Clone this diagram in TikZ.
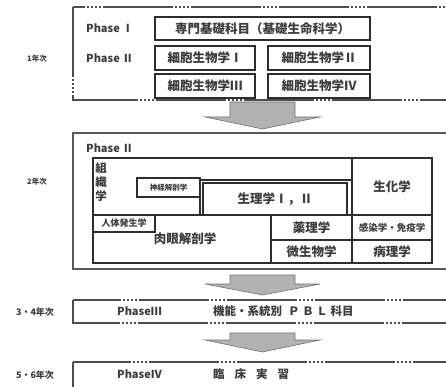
\documentclass[tikz,border=0pt]{standalone}
\usepackage{fontspec}
\newfontfamily\jp{Noto Sans CJK JP}
\usetikzlibrary{calc}
\definecolor{txt}{RGB}{60,60,60}
\definecolor{edge}{RGB}{45,45,45}
\tikzset{
  lab/.style={inner sep=0pt, font=\jp\bfseries, text=txt},
  cell/.style={draw=edge, line width=1.1pt, inner sep=0pt, font=\jp\bfseries\fontsize{12.5}{13}\selectfont, text=txt},
  phase/.style={lab, anchor=west, font=\jp\bfseries\fontsize{11}{12}\selectfont},
  dotbox/.style={draw=black!70, line width=1.2pt, dash pattern=on 70pt off 2pt on 2pt off 2pt on 2pt off 2pt on 2pt off 2pt on 2pt off 2pt},
  solidbox/.style={draw=black!65, line width=1.6pt},
  blockarr/.style={fill=black!30, draw=black!55, line width=0.6pt},
}
\newcommand\blockarrow[3]{%
  \draw[blockarr] ($(#1)+(-32.5,0)$) -- ($(#1)+(32.5,0)$) -- ($(#1)+(32.5,#2)$) -- ($(#1)+(57.5,#2)$)
    -- ($(#1)+(0,#3)$) -- ($(#1)+(-57.5,#2)$) -- ($(#1)+(-32.5,#2)$) -- cycle;}
\begin{document}
\begin{tikzpicture}[x=1pt,y=-1pt]
\useasboundingbox (0,0) rectangle (446,387);
\clip (0,0) rectangle (446,387);
\fill[white] (0,0) rectangle (446,387);

% ---------- 1st year ----------
\draw[dotbox] (73,7) rectangle (470,100);
\node[lab, font=\jp\bfseries\fontsize{7.5}{8}\selectfont] (y1) at (37,59) {1年次};
\node[phase] (p1) at (86,28) {Phase Ⅰ};
\node[phase] (p2) at (86,58) {Phase Ⅱ};
\node[cell, minimum width=215, minimum height=23] (b0) at (262.5,28.5) {専門基礎科目（基礎生命科学）};
\node[cell, minimum width=100, minimum height=24] (b1) at (205,58) {細胞生物学Ⅰ};
\node[cell, minimum width=102, minimum height=24] (b2) at (319,58) {細胞生物学Ⅱ};
\node[cell, minimum width=100, minimum height=24] (b3) at (205,86) {細胞生物学Ⅲ};
\node[cell, minimum width=102, minimum height=24] (b4) at (319,86) {細胞生物学Ⅳ};

\coordinate (a1) at (262.5,102);
\blockarrow{a1}{15}{27}

% ---------- 2nd year ----------
\draw[solidbox] (73,133) rectangle (470,269);
\node[lab, font=\jp\bfseries\fontsize{7.5}{8}\selectfont] (y2) at (37,182) {2年次};
\node[phase] (p3) at (86,148) {Phase Ⅱ};

\node[cell, minimum width=259, minimum height=57] (soshiki) at (222.5,186.5) {};
\node[lab, align=center, font=\jp\bfseries\fontsize{11.5}{14}\selectfont] (soshikit) at (101,182) {組\\織\\学};
\node[cell, minimum width=63, minimum height=19, font=\jp\bfseries\fontsize{7.5}{8}\selectfont] (shinkei) at (168.5,187.5) {神経解剖学};
\node[cell, minimum width=152, minimum height=35] (seiriout) at (276,197.5) {};
\node[cell, minimum width=144, minimum height=32] (seiri) at (275,199) {生理学Ⅰ，Ⅱ};
\node[cell, minimum width=80, minimum height=57] (seika) at (392,186.5) {生化学};
\node[cell, minimum width=178, minimum height=48] (nikugan) at (182,239) {\hspace*{6pt}肉眼解剖学};
\node[cell, minimum width=62, minimum height=17, font=\jp\bfseries\fontsize{9}{10}\selectfont] (jintai) at (124,223.5) {人体発生学};
\node[cell, minimum width=81, minimum height=25] (yakuri) at (311.5,227.5) {薬理学};
\node[cell, minimum width=81, minimum height=23] (biseibutsu) at (311.5,251.5) {微生物学};
\node[cell, minimum width=80, minimum height=25, font=\jp\bfseries\fontsize{9.5}{10}\selectfont] (kansen) at (392,227.5) {感染学・免疫学};
\node[cell, minimum width=80, minimum height=23] (byouri) at (392,251.5) {病理学};

\coordinate (a2) at (262.5,275);
\blockarrow{a2}{9}{20}

% ---------- 3-4th year ----------
\draw[dotbox] (73,300) rectangle (470,323);
\node[lab, font=\jp\bfseries\fontsize{9}{10}\selectfont] (y34) at (35,312) {3・4年次};
\node[phase] (p4) at (117,311) {PhaseⅢ};
\node[lab, anchor=west, font=\jp\bfseries\fontsize{11.5}{12}\selectfont] (kinou) at (213,311) {機能・系統別\hspace{6pt}Ｐ Ｂ Ｌ 科目};

\coordinate (a3) at (262.5,333);
\blockarrow{a3}{7}{19}

% ---------- 5-6th year ----------
\draw[dotbox] (73,362) rectangle (470,390);
\node[lab, font=\jp\bfseries\fontsize{9}{10}\selectfont] (y56) at (35,375) {5・6年次};
\node[phase] (p5) at (117,374) {PhaseⅣ};
\node[lab, anchor=west, font=\jp\bfseries\fontsize{11.5}{12}\selectfont] (rinsho) at (213,374) {臨\hspace{10pt}床\hspace{10pt}実\hspace{10pt}習};
\end{tikzpicture}
\end{document}
